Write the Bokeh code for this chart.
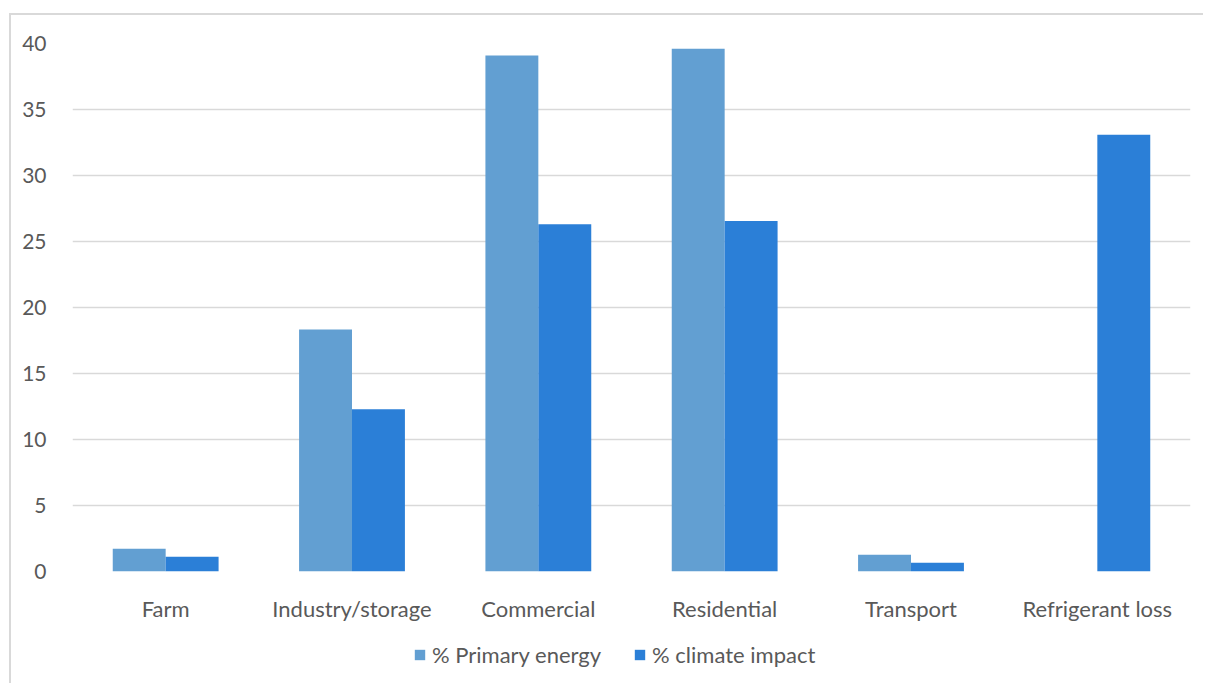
from bokeh.plotting import figure
from bokeh.layouts import column
from bokeh.models import ColumnDataSource, Legend, LegendItem, FactorRange
from bokeh.transform import dodge
from bokeh.embed import file_html
from bokeh.resources import INLINE

# Share of refrigeration sector by end use
categories = ["Farm", "Industry/storage", "Commercial", "Residential", "Transport", "Refrigerant loss"]
primary_energy = [1.72, 18.33, 39.1, 39.6, 1.27, 0.0]
climate_impact = [1.12, 12.3, 26.3, 26.56, 0.66, 33.08]
series_names = ["% Primary energy", "% climate impact"]
y_ticks = [0, 5, 10, 15, 20, 25, 30, 35, 40]

LIGHT = "#629fd2"
DARK = "#2b7fd7"
TEXT = "#595959"
GRID = "#d9d9d9"
FONT = "Lato"
W = 1192

src = ColumnDataSource(dict(cat=categories, primary=primary_energy, climate=climate_impact))

p = figure(
    x_range=FactorRange(*categories, range_padding=0),
    y_range=(0, 40),
    width=W, height=620,
    output_backend="svg", toolbar_location=None,
    min_border_left=61, min_border_right=13, min_border_top=28, min_border_bottom=64,
)

bw = 0.284
p.vbar(x=dodge("cat", -bw / 2, range=p.x_range), top="primary", width=bw,
       source=src, fill_color=LIGHT, line_color=None)
p.vbar(x=dodge("cat", bw / 2, range=p.x_range), top="climate", width=bw,
       source=src, fill_color=DARK, line_color=None)

p.outline_line_color = None
p.xgrid.grid_line_color = None
p.ygrid.grid_line_color = GRID
p.ygrid.grid_line_width = 1.3

p.yaxis.ticker = y_ticks
for ax in (p.xaxis[0], p.yaxis[0]):
    ax.axis_line_color = None
    ax.major_tick_line_color = None
    ax.minor_tick_line_color = None
    ax.major_label_text_color = TEXT
    ax.major_label_text_font = FONT
p.yaxis.major_label_text_font_size = "21px"
p.xaxis.major_label_text_font_size = "22px"
p.yaxis.major_label_standoff = 20
p.xaxis.major_label_standoff = 17

# legend strip underneath the chart; its key bars are zero-height and off-range
leg = figure(width=W, height=48, x_range=(0, 1), y_range=(0, 1),
             x_axis_type=None, y_axis_type=None,
             output_backend="svg", toolbar_location=None,
             min_border=0, outline_line_color=None)
leg.xgrid.visible = False
leg.ygrid.visible = False
key_src = ColumnDataSource(dict(x=[-50.0], top=[-50.0], bottom=[-50.0]))
k1 = leg.vbar(x="x", top="top", bottom="bottom", width=0.1, source=key_src,
              fill_color=LIGHT, line_color=None)
k2 = leg.vbar(x="x", top="top", bottom="bottom", width=0.1, source=key_src,
              fill_color=DARK, line_color=None)

legend = Legend(
    items=[LegendItem(label=series_names[0], renderers=[k1]),
           LegendItem(label=series_names[1], renderers=[k2])],
    orientation="horizontal", location=(341, 15),
    border_line_color=None, background_fill_alpha=0,
    padding=0, margin=0, spacing=32,
    glyph_width=13, glyph_height=13, label_standoff=6, label_height=22,
    label_text_font=FONT, label_text_font_size="22px", label_text_color=TEXT,
)
leg.add_layout(legend, "center")

page = column(p, leg, spacing=0)
page.styles = {"margin-left": "9px", "margin-top": "13px",
               "border-left": f"2px solid {GRID}", "border-top": f"2px solid {GRID}"}

open("out.html", "w").write(file_html(page, INLINE))
